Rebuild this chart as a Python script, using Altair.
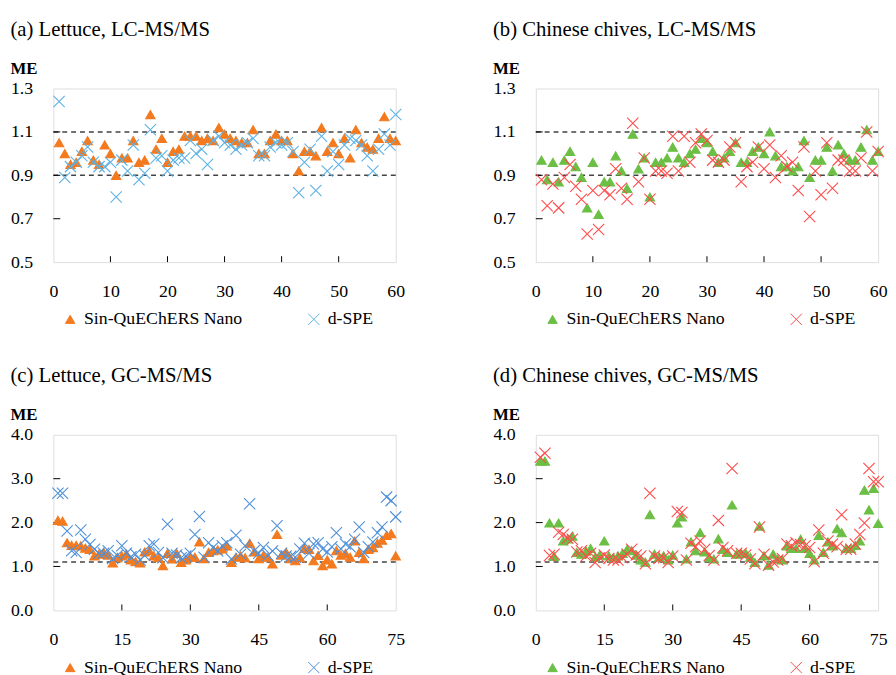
import altair as alt
import pandas as pd

FONT = "Liberation Serif"
SER = ["Sin-QuEChERS Nano", "d-SPE"]
CROSS = "M-1,-1L1,1M-1,1L1,-1"

lc_x = list(range(1, 61))
gc_x = list(range(1, 76))

# (a) Lettuce, LC-MS/MS
a_nano = [1.05, 1.00, 0.95, 0.96, 1.01, 1.06, 0.97, 0.95, 1.04, 1.00,
          0.90, 0.98, 0.98, 1.06, 0.96, 0.97, 1.18, 1.02, 1.07, 0.96,
          1.01, 1.02, 1.08, 1.08, 1.08, 1.06, 1.07, 1.06, 1.12, 1.09,
          1.07, 1.06, 1.05, 1.05, 1.11, 1.00, 1.00, 1.06, 1.09, 1.06,
          1.06, 1.00, 0.92, 1.01, 1.01, 0.99, 1.12, 1.01, 1.05, 1.00,
          1.07, 0.98, 1.11, 1.05, 1.03, 1.02, 1.07, 1.17, 1.07, 1.06]
a_dspe = [1.24, 0.89, 0.94, 0.96, 0.99, 1.03, 0.96, 0.94, 0.94, 0.96,
          0.80, 0.97, 0.92, 1.04, 0.88, 0.91, 1.11, 0.98, 0.99, 0.92,
          0.97, 0.98, 0.98, 1.06, 1.00, 1.02, 0.95, 1.06, 1.08, 1.05,
          1.04, 1.02, 1.04, 1.05, 1.07, 0.99, 0.99, 1.03, 1.05, 1.04,
          1.05, 1.01, 0.82, 0.96, 1.02, 0.83, 1.08, 0.92, 1.01, 0.95,
          1.04, 1.07, 1.06, 1.04, 0.99, 0.92, 1.02, 1.09, 1.04, 1.18]

# (b) Chinese chives, LC-MS/MS
b_nano = [0.97, 0.88, 0.96, 0.87, 0.97, 1.01, 0.94, 0.89, 0.75, 0.96,
          0.72, 0.87, 0.87, 0.99, 0.92, 0.84, 1.09, 0.93, 0.98, 0.80,
          0.96, 0.96, 0.98, 1.03, 0.98, 0.96, 1.00, 1.02, 1.07, 1.05,
          1.01, 0.96, 0.98, 1.01, 1.05, 0.96, 0.96, 1.01, 1.03, 1.00,
          1.10, 0.99, 0.94, 0.94, 0.92, 0.94, 1.06, 0.89, 0.97, 0.97,
          1.03, 0.92, 1.04, 1.00, 0.97, 0.97, 1.03, 1.11, 0.97, 1.01]
b_dspe = [0.88, 0.76, 0.86, 0.75, 0.89, 0.95, 0.85, 0.79, 0.63, 0.83,
          0.65, 0.83, 0.81, 0.93, 0.84, 0.79, 1.14, 0.87, 0.98, 0.79,
          0.92, 0.92, 0.91, 1.08, 0.92, 1.08, 0.96, 1.05, 1.09, 1.06,
          0.97, 0.96, 0.97, 1.03, 1.05, 0.87, 0.94, 0.96, 1.03, 0.93,
          1.04, 0.89, 0.99, 0.94, 0.96, 0.83, 1.03, 0.71, 0.92, 0.81,
          1.05, 0.84, 0.97, 0.97, 0.92, 0.92, 0.98, 1.10, 0.92, 1.01]

# (c) Lettuce, GC-MS/MS
c_nano = [2.05, 2.03, 1.54, 1.48, 1.48, 1.47, 1.42, 1.39, 1.24, 1.28,
          1.32, 1.26, 1.08, 1.20, 1.24, 1.28, 1.15, 1.11, 1.08, 1.33,
          1.36, 1.24, 1.20, 1.02, 1.30, 1.17, 1.30, 1.09, 1.15, 1.21,
          1.21, 1.56, 1.18, 1.32, 1.36, 1.38, 1.40, 1.47, 1.09, 1.21,
          1.24, 1.20, 1.53, 1.33, 1.18, 1.25, 1.21, 1.06, 1.73, 1.26,
          1.32, 1.18, 1.13, 1.20, 1.41, 1.39, 1.13, 1.25, 1.02, 1.15,
          1.06, 1.36, 1.26, 1.30, 1.21, 1.58, 1.32, 1.18, 1.39, 1.43,
          1.53, 1.60, 1.71, 1.75, 1.24]
c_dspe = [2.67, 2.67, 1.81, 1.36, 1.32, 1.83, 1.62, 1.50, 1.39, 1.30,
          1.30, 1.36, 1.18, 1.25, 1.47, 1.30, 1.22, 1.28, 1.15, 1.25,
          1.47, 1.51, 1.32, 1.20, 1.96, 1.30, 1.26, 1.20, 1.24, 1.30,
          1.73, 2.14, 1.21, 1.54, 1.43, 1.35, 1.47, 1.54, 1.17, 1.71,
          1.28, 1.47, 2.43, 1.36, 1.30, 1.43, 1.25, 1.35, 1.93, 1.30,
          1.24, 1.23, 1.21, 1.40, 1.53, 1.30, 1.51, 1.54, 1.40, 1.33,
          1.45, 1.77, 1.40, 1.51, 1.45, 1.62, 1.90, 1.32, 1.45, 1.56,
          1.77, 1.90, 2.58, 2.50, 2.13]

# (d) Chinese chives, GC-MS/MS
d_nano = [3.40, 3.40, 1.99, 1.23, 1.99, 1.58, 1.63, 1.69, 1.32, 1.28,
          1.35, 1.41, 1.21, 1.26, 1.58, 1.24, 1.20, 1.24, 1.30, 1.39,
          1.36, 1.26, 1.15, 1.10, 2.18, 1.28, 1.21, 1.24, 1.15, 1.26,
          1.99, 2.13, 1.17, 1.56, 1.36, 1.77, 1.33, 1.21, 1.17, 1.63,
          1.39, 1.32, 2.40, 1.28, 1.30, 1.30, 1.21, 1.09, 1.92, 1.24,
          1.03, 1.28, 1.17, 1.15, 1.47, 1.41, 1.41, 1.62, 1.41, 1.30,
          1.15, 1.71, 1.32, 1.56, 1.47, 1.86, 1.77, 1.41, 1.41, 1.48,
          1.58, 2.74, 2.29, 2.78, 1.98]
d_dspe = [3.49, 3.58, 1.25, 1.28, 1.78, 1.73, 1.65, 1.62, 1.33, 1.36,
          1.24, 1.30, 1.09, 1.20, 1.26, 1.18, 1.15, 1.15, 1.20, 1.28,
          1.39, 1.26, 1.24, 1.06, 2.67, 1.24, 1.18, 1.20, 1.09, 1.24,
          2.25, 2.23, 1.15, 1.53, 1.45, 1.58, 1.39, 1.25, 1.15, 2.05,
          1.43, 1.36, 3.23, 1.30, 1.30, 1.26, 1.17, 1.06, 1.90, 1.28,
          1.03, 1.10, 1.15, 1.18, 1.51, 1.47, 1.54, 1.50, 1.47, 1.43,
          1.11, 1.83, 1.30, 1.58, 1.51, 1.45, 2.18, 1.39, 1.39, 1.51,
          1.73, 1.99, 3.23, 2.93, 2.93]

lc_xticks = [0, 10, 20, 30, 40, 50, 60]
gc_xticks = [0, 15, 30, 45, 60, 75]
lc_yticks = [0.5, 0.7, 0.9, 1.1, 1.3]
gc_yticks = [0.0, 1.0, 2.0, 3.0, 4.0]
lc_refs = [0.9, 1.1]
gc_refs = [1.1]

ORANGE = "#F47A1F"
BLUE_A = "#5CB2E4"
BLUE_C = "#4E90DA"
GREEN = "#6CBF45"
RED = "#FF4B4B"

W = 347


def panel(title, xs, nano, dspe, cn, cd, xticks, yticks, refs, h):
    n = len(xs)
    df = pd.DataFrame({"idx": xs + xs, "ME": nano + dspe,
                       "series": [SER[0]] * n + [SER[1]] * n})
    xdom = [xticks[0], xticks[-1]]
    ydom = [yticks[0], yticks[-1]]
    xenc = alt.X("idx:Q", scale=alt.Scale(domain=xdom, nice=False, zero=False),
                 axis=alt.Axis(values=xticks, title=None, grid=False, domain=False,
                               ticks=False, tickSize=0, labelPadding=21,
                               labelFont=FONT, labelFontSize=18, labelColor="black",
                               labelFlush=False, format="d"))
    yenc = alt.Y("ME:Q", scale=alt.Scale(domain=ydom, nice=False, zero=False),
                 axis=alt.Axis(values=yticks, title=None, grid=False, domain=False,
                               ticks=False, tickSize=0, labelPadding=21, format=".1f",
                               labelFont=FONT, labelFontSize=18, labelColor="black",
                               labelFlush=False))
    cscale = alt.Scale(domain=SER, range=[cn, cd])
    leg = alt.Legend(title=None, orient="none", legendX=8, legendY=h + 49,
                     direction="horizontal", columnPadding=63, labelFont=FONT,
                     labelFontSize=18, labelColor="black", symbolSize=55,
                     labelOffset=5, symbolStrokeWidth=1, labelLimit=0)
    pts = alt.Chart(df).mark_point(filled=True, strokeWidth=1.1, opacity=1).encode(
        x=xenc, y=yenc,
        color=alt.Color("series:N", scale=cscale, legend=leg),
        stroke=alt.Stroke("series:N", scale=cscale, legend=leg),
        shape=alt.Shape("series:N", scale=alt.Scale(domain=SER, range=["triangle-up", CROSS]),
                        legend=leg),
        size=alt.Size("series:N", scale=alt.Scale(domain=SER, range=[90, 130]), legend=None),
    )
    refdf = pd.DataFrame({"ref": refs})
    ref = alt.Chart(refdf).mark_rule(color="#444444", strokeDash=[5, 4], strokeWidth=1.5).encode(
        y=alt.Y("ref:Q", scale=alt.Scale(domain=ydom, nice=False, zero=False)))
    xt = pd.DataFrame({"t": xticks[1:-1]})
    yt = pd.DataFrame({"t": yticks[1:-1]})
    xtick = alt.Chart(xt).mark_rule(color="black", strokeWidth=1).encode(
        x=alt.X("t:Q", scale=alt.Scale(domain=xdom, nice=False, zero=False)),
        y=alt.value(h - 6), y2=alt.value(h))
    ytick = alt.Chart(yt).mark_rule(color="black", strokeWidth=1).encode(
        y=alt.Y("t:Q", scale=alt.Scale(domain=ydom, nice=False, zero=False)),
        x=alt.value(0), x2=alt.value(7))
    return alt.layer(ref, xtick, ytick, pts).properties(
        width=W, height=h,
        title=alt.TitleParams(text=title, subtitle="ME", anchor="start", frame="bounds",
                              font=FONT, fontSize=21, fontWeight="normal", color="black",
                              subtitleFont=FONT, subtitleFontSize=17,
                              subtitleFontWeight="bold", subtitleColor="black",
                              subtitlePadding=21, offset=3))


pa = panel("(a) Lettuce, LC-MS/MS", lc_x, a_nano, a_dspe, ORANGE, BLUE_A,
           lc_xticks, lc_yticks, lc_refs, 176)
pb = panel("(b) Chinese chives, LC-MS/MS", lc_x, b_nano, b_dspe, GREEN, RED,
           lc_xticks, lc_yticks, lc_refs, 176)
pc = panel("(c) Lettuce, GC-MS/MS", gc_x, c_nano, c_dspe, ORANGE, BLUE_C,
           gc_xticks, gc_yticks, gc_refs, 178)
pd_ = panel("(d) Chinese chives, GC-MS/MS", gc_x, d_nano, d_dspe, GREEN, RED,
            gc_xticks, gc_yticks, gc_refs, 178)

chart = alt.concat(pa, pb, pc, pd_, columns=2, spacing={"row": 175, "column": 142},
                   bounds="flush").resolve_scale(
    color="independent", stroke="independent", shape="independent", size="independent"
).properties(
    padding={"left": 2, "top": 6, "right": 0, "bottom": 0}
).configure_view(stroke="black", strokeWidth=1.2).configure(background="white")

chart.save("out.html", embed_options={"renderer": "svg", "actions": False})
